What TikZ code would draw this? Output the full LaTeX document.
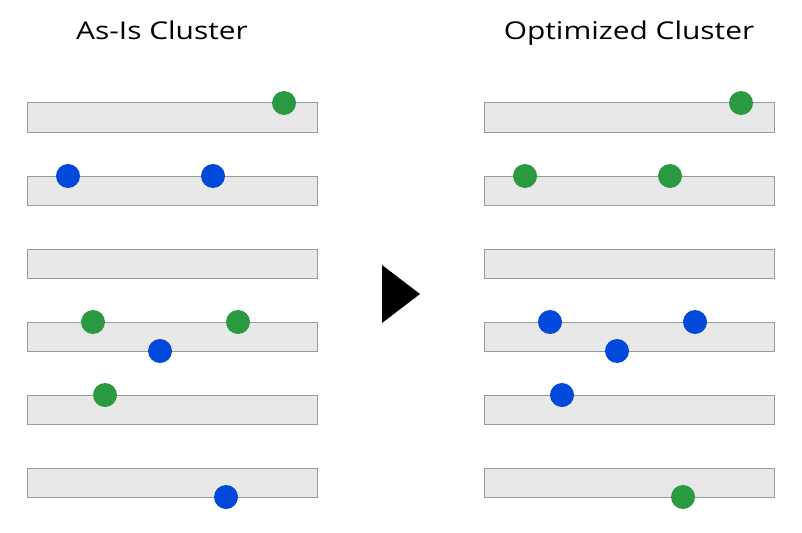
\documentclass[tikz,border=0pt]{standalone}
\usepackage{fontspec}
\setmainfont{Open Sans}
\definecolor{bargray}{HTML}{E8E8E8}
\definecolor{barline}{HTML}{9A9A9A}
\definecolor{dotgreen}{HTML}{299A40}
\definecolor{dotblue}{HTML}{0049DB}
\newcommand{\wtitle}[1]{\scalebox{1.22}[1]{#1}}
\begin{document}
\begin{tikzpicture}[x=1pt,y=-1pt,
  bar/.style={draw=barline,fill=bargray,line width=1pt,minimum width=290pt,minimum height=29pt,inner sep=0pt,outer sep=0pt,anchor=north west},
  gdot/.style={circle,fill=dotgreen,minimum size=24pt,inner sep=0pt},
  bdot/.style={circle,fill=dotblue,minimum size=24pt,inner sep=0pt},
  title/.style={font=\fontsize{24.5}{28}\selectfont,anchor=base}]
\useasboundingbox (0,0) rectangle (802,532);
\node[title] (t1) at (162,39.5) {\wtitle{As-Is Cluster}};
\node[title] (t2) at (629,39.5) {\wtitle{Optimized Cluster}};
\foreach \i/\yy in {1/103,2/176,3/249,4/322,5/395,6/468}{
  \node[bar] (L\i) at (27,\yy) {};
  \node[bar] (R\i) at (484,\yy) {};
}
% left dots
\node[gdot] (l1) at (284,103) {};
\node[bdot] (l2) at (68,176) {};
\node[bdot] (l3) at (213,176) {};
\node[gdot] (l4) at (93,322) {};
\node[gdot] (l5) at (238,322) {};
\node[bdot] (l6) at (160,351) {};
\node[gdot] (l7) at (105,395) {};
\node[bdot] (l8) at (226,497) {};
% right dots
\node[gdot] (r1) at (741,103) {};
\node[gdot] (r2) at (525,176) {};
\node[gdot] (r3) at (670,176) {};
\node[bdot] (r4) at (550,322) {};
\node[bdot] (r5) at (695,322) {};
\node[bdot] (r6) at (617,351) {};
\node[bdot] (r7) at (562,395) {};
\node[gdot] (r8) at (683,497) {};
% arrow
\fill[black] (382,265) -- (420,294) -- (382,323) -- cycle;
\end{tikzpicture}
\end{document}
